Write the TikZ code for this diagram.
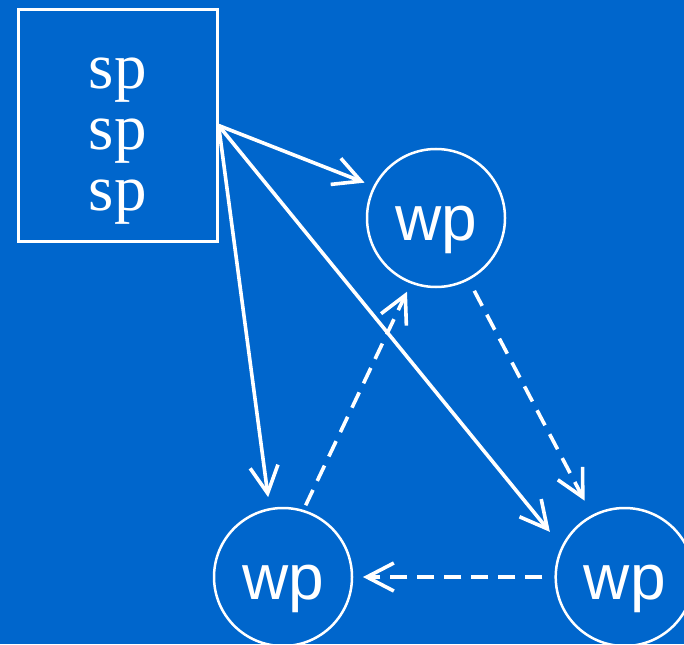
\documentclass[tikz,border=0pt]{standalone}
\usepackage{fontspec}
\setmainfont{Liberation Serif}
\newfontfamily\wpfont{Liberation Sans}
\usetikzlibrary{arrows.meta}
\definecolor{slideblue}{RGB}{0,102,204}

\begin{document}
\begin{tikzpicture}[x=1pt,y=-1pt,
  spbox/.style={draw=white,line width=2.6pt,minimum width=199pt,
    minimum height=232pt,inner sep=0pt},
  sptext/.style={text=white,align=center,inner sep=0pt,
    font=\fontsize{65}{61}\selectfont},
  wpnode/.style={circle,draw=white,line width=2.5pt,minimum size=138pt,
    inner sep=0pt,text=white,font=\wpfont\fontsize{64}{70}\selectfont,
    text height=44pt,text depth=0pt},
  wparrow/.style={-{Straight Barb[length=27pt,width=28pt]}},
  link/.style={draw=white,line width=3.6pt,wparrow},
  hint/.style={link,dash pattern=on 17pt off 10pt}]

  %% background
  \path[use as bounding box,fill=slideblue] (0,0) rectangle (684,644);

  %% the sp box
  \node[spbox] (sp) at (117.8,125.5) {};
  \node[sptext] (splabel) at (117.8,141.5) {sp\\sp\\sp};

  %% the three wp circles
  \node[wpnode] (wp1) at (436,218) {wp};
  \node[wpnode] (wp2) at (283,577) {wp};
  \node[wpnode] (wp3) at (624.7,577) {wp};

  %% sp -> wp
  \draw[link,shorten >=9.5pt] (sp.east) -- (wp1.153);
  \draw[link,shorten >=11pt] (sp.east) -- (wp2.101);
  \draw[link,shorten >=18.5pt] (sp.east) -- (wp3.154);

  %% wp -> wp, dashed
  \draw[hint,shorten <=12pt,shorten >=16pt] (wp1) -- (wp3);
  \draw[hint,shorten <=12pt,shorten >=9.7pt] (wp3) -- (wp2);
  \draw[hint,shorten <=5pt,shorten >=9pt] (wp2.73) -- (wp1.249);

\end{tikzpicture}
\end{document}
